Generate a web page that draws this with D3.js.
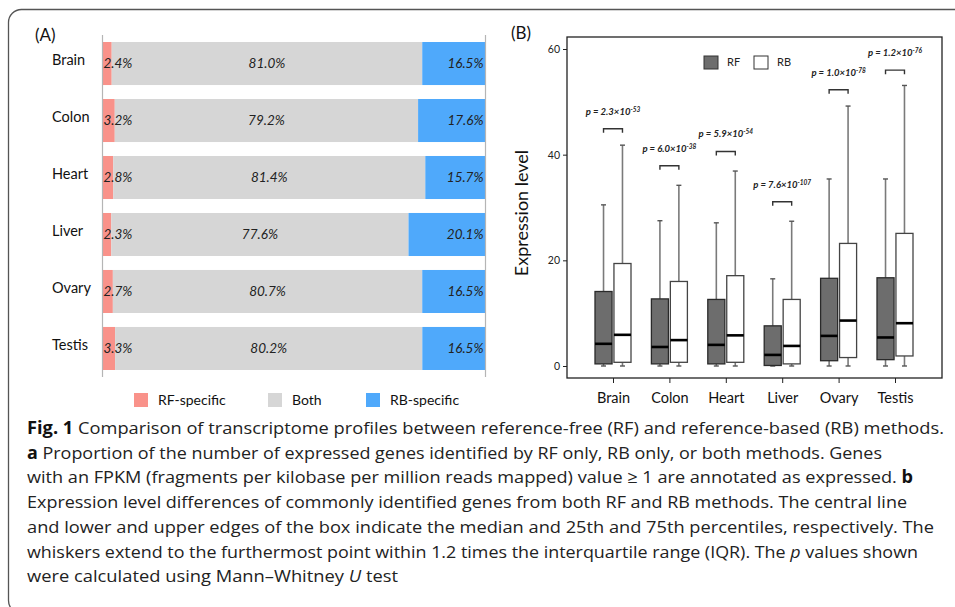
<!DOCTYPE html>
<html><head><meta charset="utf-8">
<script src="https://cdn.jsdelivr.net/npm/d3@7/dist/d3.min.js"></script>
<style>
html,body{margin:0;padding:0;background:#fff;}
svg{display:block;}
</style></head>
<body>
<svg id="chart" width="955" height="607"></svg>
<script>
// ---------- data ----------
const tissues = ["Brain", "Colon", "Heart", "Liver", "Ovary", "Testis"];
const rfSpecific = [2.4, 3.2, 2.8, 2.3, 2.7, 3.3];
const bothPct = [81.0, 79.2, 81.4, 77.6, 80.7, 80.2];
const rbSpecific = [16.5, 17.6, 15.7, 20.1, 16.5, 16.5];
const segmentNames = ["RF-specific", "Both", "RB-specific"];

const rfMin = [0, 0, 0, 0, 0, 0];
const rfQ1 = [0.4, 0.4, 0.4, 0.1, 1.0, 1.2];
const rfMedian = [4.2, 3.6, 4.0, 2.1, 5.7, 5.4];
const rfQ3 = [14.1, 12.7, 12.6, 7.6, 16.6, 16.7];
const rfMax = [30.5, 27.5, 27.1, 16.5, 35.4, 35.4];
const rbMin = [0, 0, 0, 0, 0, 0];
const rbQ1 = [0.7, 0.7, 0.7, 0.4, 1.6, 1.9];
const rbMedian = [5.9, 4.9, 5.8, 3.8, 8.6, 8.1];
const rbQ3 = [19.4, 16.0, 17.1, 12.6, 23.2, 25.1];
const rbMax = [41.8, 34.2, 36.9, 27.4, 49.2, 53.1];
const methods = ["RF", "RB"];

const pMantissa = ["2.3", "6.0", "5.9", "7.6", "1.0", "1.2"];
const pExponent = ["-53", "-38", "-54", "-107", "-78", "-76"];
const bracketLevel = [44.9, 37.9, 40.6, 31.1, 52.3, 56.0];
const yTicks = [0, 20, 40, 60];

const captionLines = [
  [["b", "Fig. 1"], ["n", "  Comparison of transcriptome profiles between reference-free (RF) and reference-based (RB) methods."]],
  [["b", "a"], ["n", " Proportion of the number of expressed genes identified by RF only, RB only, or both methods. Genes"]],
  [["n", "with an FPKM (fragments per kilobase per million reads mapped) value \u2265 1 are annotated as expressed. "], ["b", "b"]],
  [["n", "Expression level differences of commonly identified genes from both RF and RB methods. The central line"]],
  [["n", "and lower and upper edges of the box indicate the median and 25th and 75th percentiles, respectively. The"]],
  [["n", "whiskers extend to the furthermost point within 1.2 times the interquartile range (IQR). The "], ["i", "p"], ["n", " values shown"]],
  [["n", "were calculated using Mann\u2013Whitney "], ["i", "U"], ["n", " test"]]
];
const captionWidths = [917, 855, 886, 880, 907, 891, 371];

// ---------- styles ----------
const svg = d3.select("#chart");
const FONT = "Lato, 'Open Sans', sans-serif";
const segColors = ["#F9928A", "#D6D6D6", "#4FA9FB"];

// outer frame
svg.append("rect").attr("x", 8.5).attr("y", 9.5).attr("width", 1000).attr("height", 604)
  .attr("rx", 13).attr("fill", "none").attr("stroke", "#555").attr("stroke-width", 1.3);

// ================= Panel A =================
const gA = svg.append("g");
gA.append("text").attr("x", 35).attr("y", 41).attr("font-family", FONT).attr("font-size", 17)
  .attr("fill", "#111").text("(A)");

const xA = d3.scaleLinear().domain([0, 1]).range([102.5, 485.5]);
const yA = d3.scaleBand().domain(tissues).range([35, 377]).paddingInner(0.245).paddingOuter(0.123);

const rowsA = tissues.map((t, i) => ({tissue: t, "RF-specific": rfSpecific[i], "Both": bothPct[i], "RB-specific": rbSpecific[i]}));
const stackA = d3.stack().keys(segmentNames).offset(d3.stackOffsetExpand)(rowsA);

gA.selectAll("g.seg").data(stackA).join("g").attr("class", "seg")
  .attr("fill", (d, i) => segColors[i])
  .selectAll("rect").data(d => d).join("rect")
  .attr("x", d => xA(d[0])).attr("width", d => xA(d[1]) - xA(d[0]))
  .attr("y", d => yA(d.data.tissue)).attr("height", yA.bandwidth());

// vertical guide lines
[0, 1].forEach(v => {
  gA.append("line").attr("x1", xA(v)).attr("x2", xA(v)).attr("y1", 35).attr("y2", 377)
    .attr("stroke", "#B5B5B5").attr("stroke-width", 1.2);
});

// category labels
gA.selectAll("text.cat").data(tissues).join("text").attr("class", "cat")
  .attr("x", 52).attr("y", d => yA(d) + yA.bandwidth() / 2 - 4)
  .attr("dy", "0.35em").attr("font-family", FONT).attr("font-size", 14.5).attr("fill", "#111")
  .text(d => d);

// percent labels
stackA.forEach((layer, li) => {
  gA.selectAll("text.pct" + li).data(layer).join("text").attr("class", "pct" + li)
    .attr("x", d => li === 0 ? xA(d[0]) + 1 : li === 1 ? (xA(d[0]) + xA(d[1])) / 2 : xA(d[1]) - 2)
    .attr("text-anchor", li === 0 ? "start" : li === 1 ? "middle" : "end")
    .attr("y", d => yA(d.data.tissue) + yA.bandwidth() / 2).attr("dy", "0.35em")
    .attr("font-family", FONT).attr("font-style", "italic").attr("font-size", 13.5).attr("fill", "#222")
    .text(d => d.data[layer.key].toFixed(1) + "%");
});

// legend A
const legA = [{x: 134, name: "RF-specific"}, {x: 268, name: "Both"}, {x: 366, name: "RB-specific"}];
legA.forEach((l, i) => {
  gA.append("rect").attr("x", l.x).attr("y", 393).attr("width", 14).attr("height", 14).attr("fill", segColors[i]);
  gA.append("text").attr("x", l.x + 24).attr("y", 400).attr("dy", "0.35em")
    .attr("font-family", FONT).attr("font-size", 14).attr("fill", "#111").text(l.name);
});

// ================= Panel B =================
const gB = svg.append("g");
gB.append("text").attr("x", 511).attr("y", 39).attr("font-family", FONT).attr("font-size", 17)
  .attr("fill", "#111").text("(B)");

const frame = {l: 567, r: 942, t: 37, b: 378};
const yB = d3.scaleLinear().domain([0, 60]).range([366, 49]);
const xB = d3.scalePoint().domain(tissues).range([613, 895]);
const xOff = d3.scaleBand().domain(methods).range([-18, 18]).paddingInner(0.1);

gB.append("rect").attr("x", frame.l).attr("y", frame.t).attr("width", frame.r - frame.l)
  .attr("height", frame.b - frame.t).attr("fill", "none").attr("stroke", "#222").attr("stroke-width", 1.3);

const yAxis = d3.axisLeft(yB).tickValues(yTicks).tickSize(4).tickPadding(3);
const gy = gB.append("g").attr("transform", `translate(${frame.l},0)`).call(yAxis);
gy.select(".domain").remove();
gy.selectAll("line").attr("stroke", "#222");
gy.selectAll("text").attr("font-family", FONT).attr("font-size", 10.5).attr("fill", "#222");

const xAxis = d3.axisBottom(xB).tickSize(5).tickPadding(10);
const gx = gB.append("g").attr("transform", `translate(0,${frame.b})`).call(xAxis);
gx.select(".domain").remove();
gx.selectAll("line").attr("stroke", "#222");
gx.selectAll("text").attr("font-family", FONT).attr("font-size", 14.5).attr("fill", "#111");

gB.append("text").attr("transform", `translate(528,213) rotate(-90)`).attr("text-anchor", "middle")
  .attr("font-family", FONT).attr("font-size", 18).attr("fill", "#111").text("Expression level");

// boxes
const boxes = [];
tissues.forEach((t, i) => {
  boxes.push({t, m: "RF", min: rfMin[i], q1: rfQ1[i], med: rfMedian[i], q3: rfQ3[i], max: rfMax[i]});
  boxes.push({t, m: "RB", min: rbMin[i], q1: rbQ1[i], med: rbMedian[i], q3: rbQ3[i], max: rbMax[i]});
});
const bw = xOff.bandwidth();
const bx = d => xB(d.t) + xOff(d.m);
const bc = d => bx(d) + bw / 2;
const capW = 5;
const whiskerColor = "#7a7a7a";

const gBox = gB.append("g");
boxes.forEach(d => {
  const g = gBox.append("g");
  g.append("line").attr("x1", bc(d)).attr("x2", bc(d)).attr("y1", yB(d.q3)).attr("y2", yB(d.max))
    .attr("stroke", whiskerColor).attr("stroke-width", 1.6);
  g.append("line").attr("x1", bc(d) - capW / 2).attr("x2", bc(d) + capW / 2).attr("y1", yB(d.max)).attr("y2", yB(d.max))
    .attr("stroke", "#555").attr("stroke-width", 1.4);
  g.append("line").attr("x1", bc(d)).attr("x2", bc(d)).attr("y1", yB(d.q1)).attr("y2", yB(d.min))
    .attr("stroke", whiskerColor).attr("stroke-width", 1.6);
  g.append("line").attr("x1", bc(d) - capW / 2).attr("x2", bc(d) + capW / 2).attr("y1", yB(d.min)).attr("y2", yB(d.min))
    .attr("stroke", "#555").attr("stroke-width", 1.4);
  g.append("rect").attr("x", bx(d)).attr("width", bw).attr("y", yB(d.q3)).attr("height", yB(d.q1) - yB(d.q3))
    .attr("fill", d.m === "RF" ? "#6D6D6D" : "#fff").attr("stroke", d.m === "RF" ? "#2a2a2a" : "#444")
    .attr("stroke-width", 1.3);
  g.append("line").attr("x1", bx(d)).attr("x2", bx(d) + bw).attr("y1", yB(d.med)).attr("y2", yB(d.med))
    .attr("stroke", "#000").attr("stroke-width", 2.6);
});

// p-value brackets
tissues.forEach((t, i) => {
  const x1 = xB(t) + xOff("RF") + bw / 2, x2 = xB(t) + xOff("RB") + bw / 2, y = yB(bracketLevel[i]);
  gB.append("path").attr("d", `M${x1},${y + 4}V${y}H${x2}V${y + 4}`)
    .attr("fill", "none").attr("stroke", "#333").attr("stroke-width", 1.4);
  const tx = gB.append("text").attr("x", xB(t)).attr("y", y - 14).attr("text-anchor", "middle")
    .attr("font-family", FONT).attr("font-style", "italic").attr("font-weight", "bold")
    .attr("font-size", 9.5).attr("fill", "#222");
  tx.append("tspan").text("p = " + pMantissa[i] + "\u00d710");
  tx.append("tspan").attr("dy", -3).attr("font-size", 6.5).text(pExponent[i]);
});

// legend B
const legB = [{x: 704, m: "RF", fill: "#6D6D6D"}, {x: 754, m: "RB", fill: "#fff"}];
legB.forEach(l => {
  gB.append("rect").attr("x", l.x).attr("y", 56).attr("width", 14).attr("height", 13)
    .attr("fill", l.fill).attr("stroke", "#333").attr("stroke-width", 1);
  gB.append("text").attr("x", l.x + 23).attr("y", 62.5).attr("dy", "0.35em")
    .attr("font-family", FONT).attr("font-size", 11).attr("fill", "#222").text(l.m);
});

// ================= Caption =================
const gC = svg.append("g");
captionLines.forEach((parts, i) => {
  const t = gC.append("text").attr("x", 27).attr("y", 434 + i * 24.7)
    .attr("font-family", "'Open Sans', sans-serif").attr("font-size", 17).attr("fill", "#222")
    .attr("textLength", captionWidths[i]).attr("lengthAdjust", "spacingAndGlyphs");
  parts.forEach(([style, s]) => {
    const ts = t.append("tspan").text(s);
    if (style === "b") ts.attr("font-weight", "bold").attr("fill", "#111");
    if (style === "i") ts.attr("font-style", "italic");
  });
});
</script>
</body></html>
